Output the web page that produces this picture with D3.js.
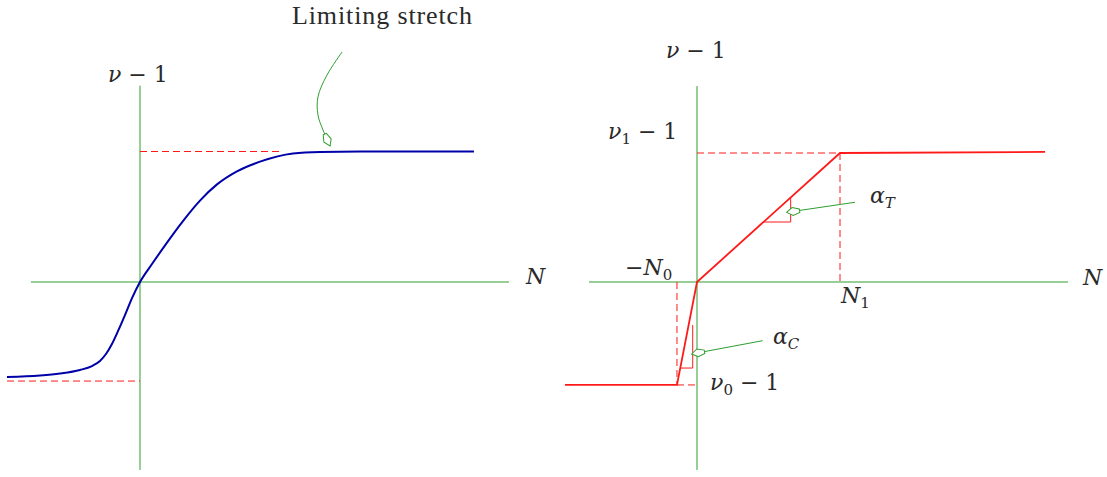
<!DOCTYPE html>
<html>
<head>
<meta charset="utf-8">
<script src="https://cdn.jsdelivr.net/npm/d3@7"></script>
<style>
  body { margin: 0; background: #fff; }
  svg text { font-family: "DejaVu Serif", "Liberation Serif", serif; fill: #2a2a2a; }
  .it { font-style: italic; }
</style>
</head>
<body>
<script>
// Left panel: smooth response curve (N vs nu - 1)
var leftN  = [-1.000, -0.752, -0.602, -0.451, -0.361, -0.301, -0.256, -0.211, -0.165, -0.113, -0.060, 0,
              0.098, 0.203, 0.323, 0.451, 0.579, 0.729, 0.902, 1.150, 1.353, 1.654, 2.511];
var leftNu = [-0.728, -0.716, -0.701, -0.674, -0.644, -0.605, -0.552, -0.475, -0.375, -0.253, -0.123, 0,
              0.149, 0.302, 0.467, 0.624, 0.748, 0.848, 0.922, 0.985, 0.997, 1, 1];
var leftLower = -0.759;   // lower asymptote
var leftUpper = 1;        // limiting stretch

// "Limiting stretch" leader, in left-panel units
var leaderN  = [1.519, 1.406, 1.338, 1.338, 1.376, 1.429];
var leaderNu = [1.762, 1.586, 1.418, 1.280, 1.165, 1.042];

// Right panel: bilinear model
var rightN  = [-0.923, -0.14, 0, 1, 2.434];
var rightNu = [-0.798, -0.798, 0, 1, 1.008];
var N0 = -0.14, N1 = 1, nu0 = -0.798, nu1 = 1;

// slope triangles and their leaders (right-panel units)
var triT = [[0.465, 0.465], [0.655, 0.465], [0.655, 0.655]];
var triC = [[-0.117, -0.667], [-0.030, -0.667], [-0.030, -0.333]];
var leadT = [[1.105, 0.618], [0.627, 0.540]];
var leadC = [[0.459, -0.455], [-0.037, -0.558]];

var svgWidth = 1107, svgHeight = 477;
var green = "#2f9e2f", red = "#ff1a1a", blue = "#0000a8";

var svg = d3.select("body").append("svg")
  .attr("width", svgWidth)
  .attr("height", svgHeight);

// open kite arrow head
svg.append("defs").append("marker")
  .attr("id", "kite")
  .attr("markerUnits", "userSpaceOnUse")
  .attr("viewBox", "-16 -6 18 12")
  .attr("markerWidth", 18).attr("markerHeight", 12)
  .attr("refX", 0).attr("refY", 0)
  .attr("orient", "auto")
  .append("path")
  .attr("d", "M0,0 L-6,-4 L-13,-2 L-13,1.5 L-6,4 Z")
  .attr("fill", "#fff")
  .attr("stroke", green)
  .attr("stroke-width", 1);

// ---------- left panel ----------
var xL = d3.scaleLinear().domain([-1, 0]).range([7, 140]);
var yL = d3.scaleLinear().domain([0, 1]).range([282, 151.5]);

var left = svg.append("g");

function seg(g, x, y, a, b, color, dash, w) {
  g.append("line")
    .attr("x1", x(a[0])).attr("y1", y(a[1]))
    .attr("x2", x(b[0])).attr("y2", y(b[1]))
    .attr("stroke", color)
    .attr("stroke-width", w || 1)
    .attr("stroke-dasharray", dash || null);
}

// axes
seg(left, xL, yL, [-0.82, 0], [2.774, 0], green);
seg(left, xL, yL, [0, -1.44], [0, 1.505], green);

// dashed asymptotes
seg(left, xL, yL, [0, leftUpper], [1.068, leftUpper], red, "7,4");
seg(left, xL, yL, [-1, leftLower], [0, leftLower], red, "7,4");

var leftLine = d3.line()
  .x(function(d, i) { return xL(leftN[i]); })
  .y(function(d, i) { return yL(leftNu[i]); })
  .curve(d3.curveMonotoneX);

left.append("path")
  .attr("d", leftLine(leftN))
  .attr("fill", "none")
  .attr("stroke", blue)
  .attr("stroke-width", 2);

var leaderLine = d3.line()
  .x(function(d, i) { return xL(leaderN[i]); })
  .y(function(d, i) { return yL(leaderNu[i]); })
  .curve(d3.curveCatmullRom);

left.append("path")
  .attr("d", leaderLine(leaderN))
  .attr("fill", "none")
  .attr("stroke", green)
  .attr("stroke-width", 1)
  .attr("marker-end", "url(#kite)");

left.append("text")
  .attr("x", 292).attr("y", 24)
  .style("font-family", "'Liberation Serif', serif")
  .style("font-size", "26px")
  .attr("textLength", 180)
  .attr("lengthAdjust", "spacing")
  .text("Limiting stretch");

function mathLabel(g, x, y, parts) {
  var tx = g.append("text").attr("x", x).attr("y", y).style("font-size", "22px");
  parts.forEach(function(p) {
    var s = tx.append("tspan").text(p.t);
    if (p.it) s.attr("class", "it");
    if (p.sub) s.style("font-size", "15px").attr("dy", 5);
    if (p.up) s.attr("dy", -5);
  });
}

mathLabel(left, xL(0) - 32, 82, [{ t: "ν", it: true }, { t: " − 1" }]);
mathLabel(left, xL(2.774) + 17, 284, [{ t: "N", it: true }]);

// ---------- right panel ----------
var xR = d3.scaleLinear().domain([0, 1]).range([697, 840]);
var yR = d3.scaleLinear().domain([0, 1]).range([282, 153]);

var right = svg.append("g");

seg(right, xR, yR, [-0.755, 0], [2.594, 0], green);
seg(right, xR, yR, [0, -1.457], [0, 1.519], green);

// dashed guides
seg(right, xR, yR, [0, nu1], [N1, nu1], red, "7,4");
seg(right, xR, yR, [N1, nu1], [N1, 0], red, "7,4");
seg(right, xR, yR, [N0, 0], [N0, nu0], red, "7,4");
seg(right, xR, yR, [N0, nu0], [0, nu0], red, "7,4");

var rightLine = d3.line()
  .x(function(d, i) { return xR(rightN[i]); })
  .y(function(d, i) { return yR(rightNu[i]); });

right.append("path")
  .attr("d", rightLine(rightN))
  .attr("fill", "none")
  .attr("stroke", red)
  .attr("stroke-width", 1.8)
  .attr("stroke-linejoin", "miter");

var ptLine = d3.line()
  .x(function(d) { return xR(d[0]); })
  .y(function(d) { return yR(d[1]); });

[triT, triC].forEach(function(tri) {
  right.append("path")
    .attr("d", ptLine(tri))
    .attr("fill", "none")
    .attr("stroke", red)
    .attr("stroke-width", 1);
});

[leadT, leadC].forEach(function(ld) {
  right.append("path")
    .attr("d", ptLine(ld))
    .attr("fill", "none")
    .attr("stroke", green)
    .attr("stroke-width", 1)
    .attr("marker-end", "url(#kite)");
});

mathLabel(right, 666, 58, [{ t: "ν", it: true }, { t: " − 1" }]);
mathLabel(right, 608, 139, [{ t: "ν", it: true }, { t: "1", sub: true }, { t: " − 1", up: true }]);
mathLabel(right, 625, 275, [{ t: "−" }, { t: "N", it: true }, { t: "0", sub: true }]);
mathLabel(right, 841, 303, [{ t: "N", it: true }, { t: "1", sub: true }]);
mathLabel(right, 710, 390, [{ t: "ν", it: true }, { t: "0", sub: true }, { t: " − 1", up: true }]);
mathLabel(right, 870, 203, [{ t: "α", it: true }, { t: "T", it: true, sub: true }]);
mathLabel(right, 773, 344, [{ t: "α", it: true }, { t: "C", it: true, sub: true }]);
mathLabel(right, xR(2.594) + 15, 285, [{ t: "N", it: true }]);
</script>
</body>
</html>
